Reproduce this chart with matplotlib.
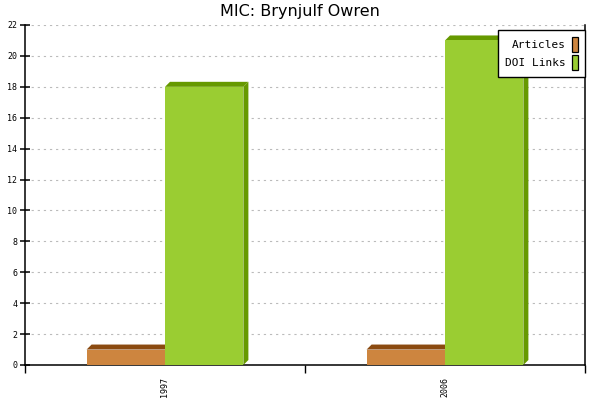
import matplotlib
matplotlib.use("Agg")
import matplotlib.pyplot as plt
from matplotlib.patches import Polygon, Rectangle

categories = ["1997", "2006"]
articles = [1, 1]
doi_links = [18, 21]
series_names = ["Articles", "DOI Links"]
front_colors = ["#CD853F", "#9ACD32"]
dark_colors = ["#8B4A10", "#669900"]

fig = plt.figure(figsize=(6, 4), dpi=100)
ax = fig.add_axes([25/600, 35/400, 560/600, 340/400])
xmin, xmax, ymin, ymax = 0, len(categories), 0, 22
ax.set_xlim(xmin, xmax)
ax.set_ylim(ymin, ymax)

ax_w_px, ax_h_px = 560, 340
dpx = 5
dx = dpx * (xmax - xmin) / ax_w_px
dy = dpx * (ymax - ymin) / ax_h_px
bw = 0.28

def bar3d(x0, h, fc, dc):
    x1 = x0 + bw
    ax.add_patch(Polygon([(x1, 0), (x1 + dx, dy), (x1 + dx, h + dy), (x1, h)],
                         closed=True, facecolor=dc, edgecolor="none", zorder=3))
    ax.add_patch(Polygon([(x0, h), (x0 + dx, h + dy), (x1 + dx, h + dy), (x1, h)],
                         closed=True, facecolor=dc, edgecolor="none", zorder=3))
    ax.add_patch(Rectangle((x0, 0), bw, h, facecolor=fc, edgecolor="none", zorder=3))

for i in range(len(categories)):
    c = i + 0.5
    bar3d(c - bw, articles[i], front_colors[0], dark_colors[0])
    bar3d(c, doi_links[i], front_colors[1], dark_colors[1])

ax.set_yticks(range(0, 23, 2))
ax.set_yticklabels([str(v) for v in range(0, 23, 2)])
ax.set_xticks(range(0, len(categories) + 1))
ax.set_xticklabels([])
for i, cat in enumerate(categories):
    ax.text(i + 0.5, -0.035, cat, transform=ax.get_xaxis_transform(), rotation=90,
            ha="center", va="top", fontsize=6, family="DejaVu Sans Mono")

ax.yaxis.grid(True, linestyle=(0, (2, 3.5)), color="#bbbbbb", linewidth=0.8, zorder=0)
ax.set_axisbelow(True)
ax.spines["top"].set_visible(False)
ax.spines["right"].set_visible(True)
for s in ["left", "bottom", "right"]:
    ax.spines[s].set_linewidth(1.1)
ax.tick_params(axis="y", direction="inout", length=7, width=1.1, labelsize=6,
               pad=2)
ax.tick_params(axis="x", direction="out", length=6, width=1.0)
for lab in ax.get_yticklabels():
    lab.set_family("DejaVu Sans Mono")

handles = [Rectangle((0, 0), 1, 1, facecolor=front_colors[k], edgecolor="black", linewidth=0.9)
           for k in range(2)]
leg = ax.legend(handles, series_names, loc="upper right", bbox_to_anchor=(1.0, 0.985),
                prop={"family": "DejaVu Sans Mono", "size": 8}, frameon=True,
                fancybox=False, edgecolor="black", markerfirst=False, framealpha=1,
                handlelength=0.55, handleheight=1.7, handletextpad=0.6,
                borderpad=0.6, labelspacing=0.3, borderaxespad=0)
leg.get_frame().set_linewidth(1.0)
leg.set_zorder(5)

fig.suptitle("MIC: Brynjulf Owren", x=0.5, y=0.99, fontsize=11.5, va="top")
fig.savefig("out.png", dpi=100)
